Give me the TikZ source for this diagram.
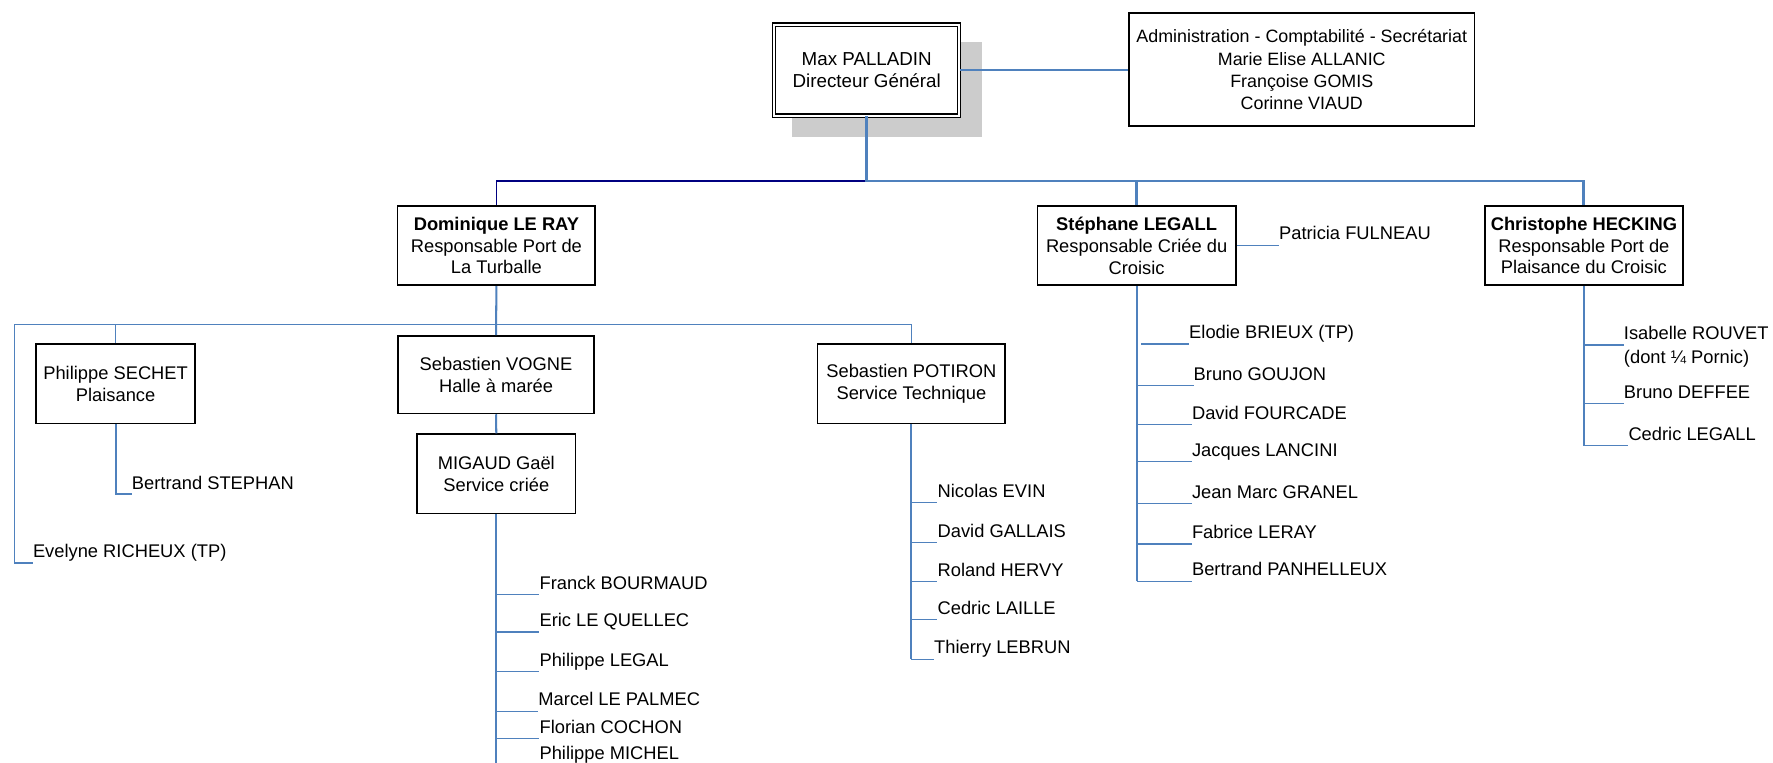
\documentclass[tikz,border=0pt]{standalone}
\usepackage{fontspec}
\setmainfont{Liberation Sans}
\usetikzlibrary{calc}
\definecolor{lnblue}{RGB}{79,129,189}
\definecolor{darknavy}{RGB}{0,0,128}
\definecolor{shadowgray}{RGB}{204,204,204}
\begin{document}
\begin{tikzpicture}[x=1pt,y=-1pt,
  box/.style={draw=black, line width=1.5pt, fill=white, align=center, inner sep=0pt,
    font=\fontsize{16.2}{19.4}\selectfont},
  lbl/.style={inner sep=0pt, anchor=south west, text depth=4.5pt,
    font=\fontsize{16.2}{19.4}\selectfont},
  blueheavy/.style={draw=lnblue, line width=2.5pt},
  navyline/.style={draw=darknavy, line width=1.3pt},
  bluemid/.style={draw=lnblue, line width=1.8pt},
  bluethin/.style={draw=lnblue, line width=1.2pt},
  bluetick/.style={draw=lnblue, line width=1.2pt}
]
\useasboundingbox (0,0) rectangle (1568,674);
\fill[white] (0,0) rectangle (1568,674);

% shadow of the director box
\fill[shadowgray] (700.5,37.4) rectangle (868.2,121.4);

% top boxes
\node[box, minimum width=163.5pt, minimum height=80.5pt, line width=1.1pt, double=white, double distance=1.7pt, font=\fontsize{16.6}{19.6}\selectfont] (max) at (766.5,62) {Max PALLADIN\\Directeur Général};
\node[box, minimum width=305.5pt, minimum height=99.6pt, font=\fontsize{15.8}{19.7}\selectfont] (admin) at (1151.25,61.6) {Administration - Comptabilité - Secrétariat\\Marie Elise ALLANIC\\Françoise GOMIS\\Corinne VIAUD};

% second level
\node[box, minimum width=175pt, minimum height=70.3pt] (dom) at (439,217.1) {\textbf{Dominique LE RAY}\\Responsable Port de\\La Turballe};
\node[box, minimum width=175.6pt, minimum height=70.3pt] (ste) at (1005.2,217.1) {\textbf{Stéphane LEGALL}\\Responsable Criée du\\Croisic};
\node[box, minimum width=175.5pt, minimum height=70.3pt] (chr) at (1400.75,217.1) {\textbf{Christophe HECKING}\\Responsable Port de\\Plaisance du Croisic};

% third level
\node[box, minimum width=141pt, minimum height=70pt] (sec) at (102.25,339.5) {Philippe SECHET\\Plaisance};
\node[box, minimum width=173pt, minimum height=68.4pt] (vog) at (438.7,331.4) {Sebastien VOGNE\\Halle à marée};
\node[box, minimum width=140pt, minimum height=70pt] (mig) at (438.9,419) {MIGAUD Gaël\\Service criée};
\node[box, minimum width=166pt, minimum height=70pt] (pot) at (806,339.5) {Sebastien POTIRON\\Service Technique};

% labels
\node[lbl] (ev) at (29,498) {Evelyne RICHEUX (TP)};
\node[lbl] (bs) at (116.5,437.2) {Bertrand STEPHAN};

\node[lbl] (m1) at (477,526) {Franck BOURMAUD};
\node[lbl] (m2) at (477,559) {Eric LE QUELLEC};
\node[lbl] (m3) at (477,594) {Philippe LEGAL};
\node[lbl] (m4) at (476,629) {Marcel LE PALMEC};
\node[lbl] (m5) at (477,653) {Florian COCHON};
\node[lbl] (m6) at (477,676) {Philippe MICHEL};

\node[lbl] (p1) at (829,444.3) {Nicolas EVIN};
\node[lbl] (p2) at (829,480) {David GALLAIS};
\node[lbl] (p3) at (829,514.4) {Roland HERVY};
\node[lbl] (p4) at (829,548) {Cedric LAILLE};
\node[lbl] (p5) at (826,583) {Thierry LEBRUN};

\node[lbl] (s1) at (1051.5,304.2) {Elodie BRIEUX (TP)};
\node[lbl] (s2) at (1055.5,340.8) {Bruno GOUJON};
\node[lbl] (s3) at (1054,375.3) {David FOURCADE};
\node[lbl] (s4) at (1054,408.3) {Jacques LANCINI};
\node[lbl] (s5) at (1054,445.5) {Jean Marc GRANEL};
\node[lbl] (s6) at (1054,481) {Fabrice LERAY};
\node[lbl] (s7) at (1054,514) {Bertrand PANHELLEUX};

\node[lbl] (pat) at (1131,216.7) {Patricia FULNEAU};

\node[lbl] (c1) at (1436,305) {\begin{tabular}[t]{@{}l@{}}Isabelle ROUVET\\[1.8pt](dont ¼ Pornic)\end{tabular}};
\node[lbl] (c2) at (1436,357) {Bruno DEFFEE};
\node[lbl] (c3) at (1440,394) {Cedric LEGALL};

% coordinates for buses
\coordinate (bus) at (0,160);
\coordinate (sub) at (0,287);
\coordinate (subL) at (12.7,287);
\coordinate (migend) at (0,680);

% main connectors
\draw[navyline] (max.south |- bus) -| (dom.north);
\draw[blueheavy] (max.south) -- (max.south |- bus) -| (chr.north);
\draw[blueheavy] (ste.north |- bus) -- (ste.north);
\draw[bluethin] (max.east) -- (max.east -| admin.west);

% Dominique branch
\draw[bluemid] (dom.south) -- (vog.north);
\draw[bluethin] (ev.south west) -| (subL) -- (pot.north |- subL) -- (pot.north);
\draw[bluethin] (sec.north |- sub) -- (sec.north);
\draw[bluemid] (sec.south) |- (bs.south west);
\draw[bluemid] (vog.south) -- (mig.north);
\draw[bluemid] (mig.south) -- (mig.south |- migend);
\foreach \n in {m1,m2,m3,m4,m5} \draw[bluetick] (mig.south |- \n.south west) -- (\n.south west);
\draw[bluemid] (pot.south) -- (pot.south |- p5.south west);
\foreach \n in {p1,p2,p3,p4,p5} \draw[bluetick] (pot.south |- \n.south west) -- (\n.south west);

% Stephane branch
\draw[bluemid] (ste.south) -- (ste.south |- s7.south west);
\draw[bluetick] ([xshift=4pt]ste.south |- s1.south west) -- (s1.south west);
\foreach \n in {s2,s3,s4,s5,s6,s7} \draw[bluetick] (ste.south |- \n.south west) -- (\n.south west);
\draw[bluethin] (ste.east) -- (ste.east -| pat.south west);

% Christophe branch
\draw[bluemid] (chr.south) -- (chr.south |- c3.south west);
\foreach \n in {c1,c2,c3} \draw[bluetick] (chr.south |- \n.south west) -- (\n.south west);
\end{tikzpicture}
\end{document}
